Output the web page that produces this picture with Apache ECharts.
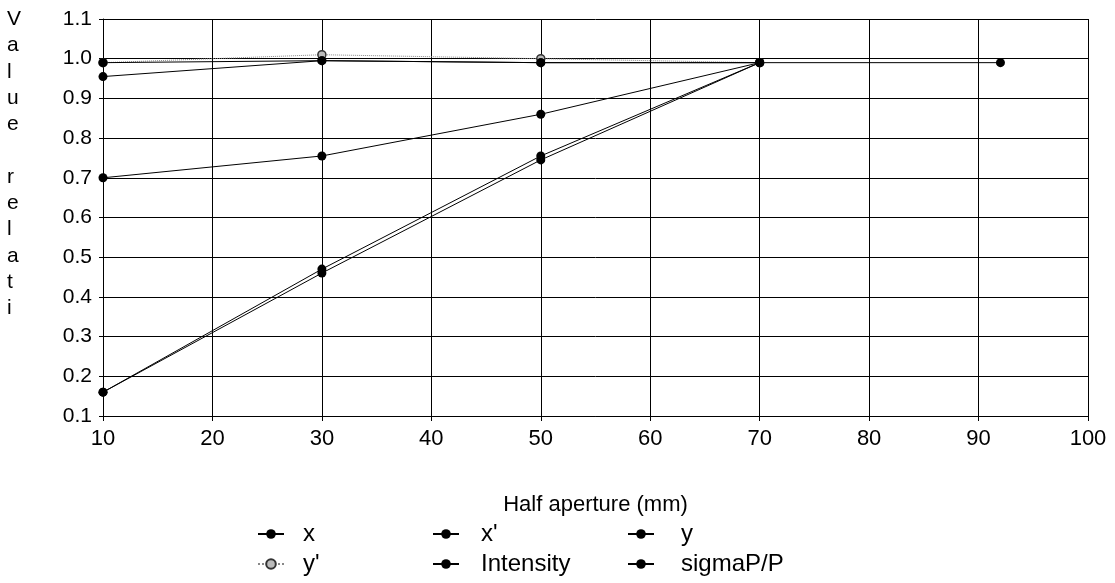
<!DOCTYPE html>
<html>
<head>
<meta charset="utf-8">
<script src="https://cdn.jsdelivr.net/npm/echarts@6/dist/echarts.min.js"></script>
<style>html,body{margin:0;padding:0;background:#fff}#c{width:1115px;height:583px}</style>
</head>
<body>
<div id="c"></div>
<script>
const apertures = [10, 30, 50, 70];
const xVals = [0.16, 0.47, 0.755, 0.99];
const xpVals = [0.16, 0.46, 0.745, 0.99];
const yVals = [0.70, 0.755, 0.86, 0.99];
const ypVals = [0.99, 1.01, 1.0, 0.99];
const intensityVals = [0.955, 0.995, 0.99, 0.99];
const sigmaApertures = [10, 30, 50, 70, 92];
const sigmaVals = [0.99, 0.995, 0.99, 0.99, 0.99];
const yTicks = ['0.1','0.2','0.3','0.4','0.5','0.6','0.7','0.8','0.9','1.0','1.1'];

const pair = (xs, ys) => xs.map((v, i) => [v, ys[i]]);
const font = 'Liberation Sans, Arial, sans-serif';

function solid(name, data) {
  return {
    name, type: 'line', data,
    symbol: 'circle', symbolSize: 9,
    lineStyle: { color: '#000', width: 1 },
    itemStyle: { color: '#000' },
    emphasis: { disabled: true }
  };
}

const chart = echarts.init(document.getElementById('c'), null, { renderer: 'canvas' });
const legendText = pad => ({ fontFamily: font, fontSize: 24, lineHeight: 24, color: '#000', padding: [0, 0, 0, pad] });
const legendBase = {
  orient: 'vertical', top: 522, padding: 0, itemWidth: 26, itemHeight: 12, itemGap: 6,
  selectedMode: false
};
chart.setOption({
  animation: false,
  backgroundColor: '#fff',
  title: {
    text: 'V\na\nl\nu\ne\n\nr\ne\nl\na\nt\ni',
    left: 7, top: 6, padding: 0,
    textStyle: { fontFamily: font, fontSize: 21, fontWeight: 'normal', color: '#000', lineHeight: 26.3 }
  },
  grid: { left: 103, right: 27, top: 19, bottom: 167 },
  xAxis: {
    type: 'value', min: 10, max: 100, interval: 10,
    name: 'Half aperture (mm)', nameLocation: 'middle', nameGap: 78,
    nameTextStyle: { fontFamily: font, fontSize: 22, color: '#000' },
    axisLine: { lineStyle: { color: '#000', width: 1 } },
    axisTick: { show: true, length: 5, lineStyle: { color: '#000' } },
    axisLabel: { fontFamily: font, fontSize: 22, color: '#000', margin: 12 },
    splitLine: { show: true, lineStyle: { color: '#000', width: 1 } }
  },
  yAxis: {
    type: 'value', min: 0.1, max: 1.1, interval: 0.1,
    axisLine: { show: true, lineStyle: { color: '#000', width: 1 } },
    axisTick: { show: true, length: 4, lineStyle: { color: '#000' } },
    axisLabel: {
      fontFamily: font, fontSize: 21, color: '#000', margin: 11,
      formatter: v => yTicks[Math.round(v * 10) - 1] || v.toFixed(1)
    },
    splitLine: { show: true, lineStyle: { color: '#000', width: 1 } }
  },
  legend: [
    Object.assign({}, legendBase, { left: 257, data: ['x', "y'"], textStyle: legendText(14) }),
    Object.assign({}, legendBase, { left: 432, data: ["x'", 'Intensity'], textStyle: legendText(17) }),
    Object.assign({}, legendBase, { left: 627, data: ['y', 'sigmaP/P'], textStyle: legendText(22) })
  ],
  series: [
    solid('x', pair(apertures, xVals)),
    solid("x'", pair(apertures, xpVals)),
    solid('y', pair(apertures, yVals)),
    {
      name: "y'", type: 'line', data: pair(apertures, ypVals),
      symbol: 'circle', symbolSize: 8,
      lineStyle: { color: '#888', width: 1, type: 'dotted' },
      itemStyle: { color: '#bbb', borderColor: '#333', borderWidth: 1.5 },
      emphasis: { disabled: true }
    },
    solid('Intensity', pair(apertures, intensityVals)),
    solid('sigmaP/P', pair(sigmaApertures, sigmaVals))
  ]
});
</script>
</body>
</html>
